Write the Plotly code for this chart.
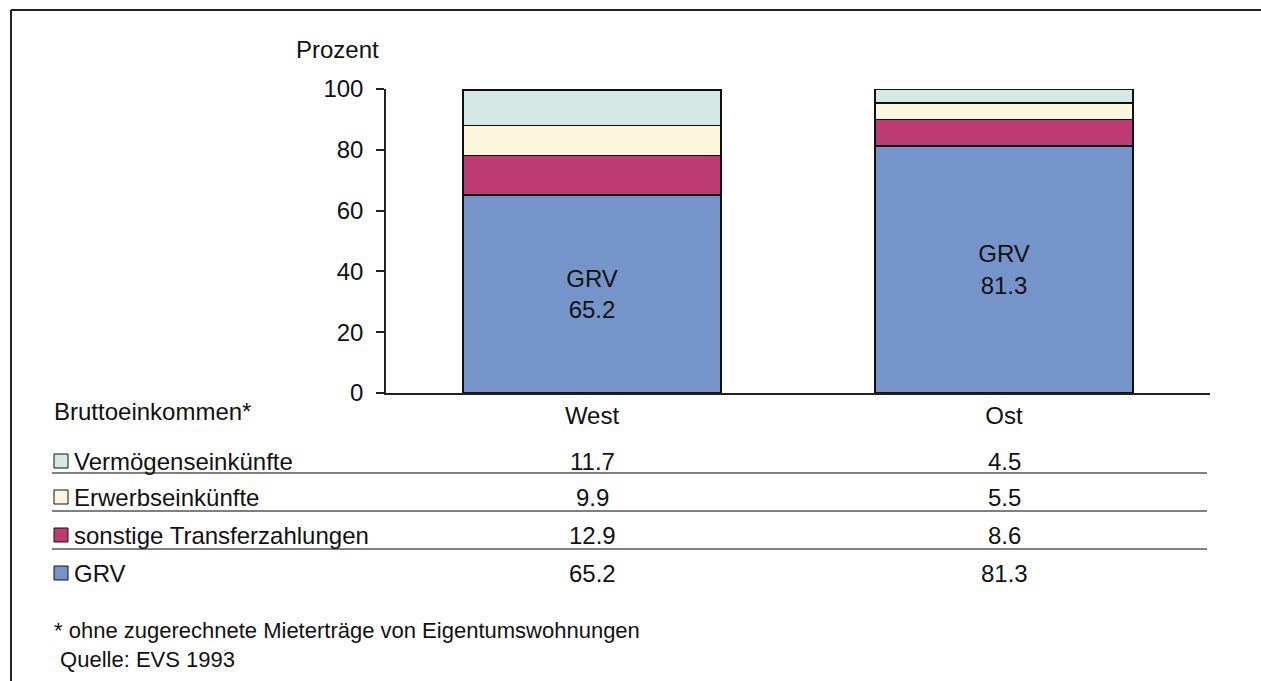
import plotly.graph_objects as go

# data
categories = ["West", "Ost"]
series_names = ["GRV", "sonstige Transferzahlungen", "Erwerbseinkünfte", "Vermögenseinkünfte"]
grv = [65.2, 81.3]
sonstige = [12.9, 8.6]
erwerb = [9.9, 5.5]
vermoegen = [11.7, 4.5]
y_ticks = [0, 20, 40, 60, 80, 100]

COLORS = {
    "GRV": "#7595CA",
    "sonstige Transferzahlungen": "#BE3B72",
    "Erwerbseinkünfte": "#FCF7DC",
    "Vermögenseinkünfte": "#D4E8E6",
}
FONT = "Liberation Sans, Arial, sans-serif"
TXT = "#111"

# full-window figure; the page margin is removed in the html below
W, H = 1261, 681
L, R, T, B = 386, 51, 89, 288
PW, PH = W - L - R, H - T - B


def px(x):
    return (x - L) / PW


def py(y):
    return (H - B - y) / PH


values = {
    "GRV": grv,
    "sonstige Transferzahlungen": sonstige,
    "Erwerbseinkünfte": erwerb,
    "Vermögenseinkünfte": vermoegen,
}

fig = go.Figure()
for name in series_names:
    vals = values[name]
    fig.add_trace(go.Bar(
        x=categories,
        y=vals,
        name=name,
        width=0.626,
        marker=dict(color=COLORS[name], line=dict(color=TXT, width=1.5)),
        text=[f"GRV<br>{v}" for v in vals] if name == "GRV" else None,
        textposition="inside" if name == "GRV" else "none",
        insidetextanchor="middle",
        textangle=0,
        textfont=dict(family=FONT, size=24, color=TXT),
        hoverinfo="skip",
    ))


def note(text, x, y, size=24, xref="paper", xanchor="left"):
    return dict(text=text, x=x, y=y, xref=xref, yref="paper",
                xanchor=xanchor, yanchor="middle", showarrow=False,
                font=dict(family=FONT, size=size, color=TXT))


annotations = [
    note("Prozent", px(381), py(50), xanchor="right"),
    note("Bruttoeinkommen*", px(52), py(411)),
    note("* ohne zugerechnete Mieterträge von Eigentumswohnungen", px(52), py(630), size=22),
    note(" Quelle: EVS 1993", px(52), py(659), size=22),
]

shapes = [
    # outer frame: only the top and left edges are inside the picture
    dict(type="line", xref="paper", yref="paper", x0=px(11), x1=px(1262), y0=py(10), y1=py(10),
         line=dict(color="#222", width=2), layer="below"),
    dict(type="line", xref="paper", yref="paper", x0=px(11), x1=px(11), y0=py(10), y1=py(690),
         line=dict(color="#222", width=2), layer="below"),
]

row_y = [461, 497, 535, 573]
sep_y = [473, 511, 549]
table_order = ["Vermögenseinkünfte", "Erwerbseinkünfte", "sonstige Transferzahlungen", "GRV"]
for i, name in enumerate(table_order):
    yc = row_y[i]
    annotations.append(note(name, px(72), py(yc)))
    for cat, v in zip(categories, values[name]):
        annotations.append(note(f"{v}", cat, py(yc), xref="x", xanchor="center"))
    shapes.append(dict(type="rect", xref="paper", yref="paper",
                       x0=px(54), x1=px(68), y0=py(yc - 7), y1=py(yc + 7),
                       fillcolor=COLORS[name], line=dict(color=TXT, width=1)))
for yl in sep_y:
    shapes.append(dict(type="line", xref="paper", yref="paper",
                       x0=px(52), x1=px(1207), y0=py(yl), y1=py(yl),
                       line=dict(color="#555", width=1.5)))

fig.update_layout(
    barmode="stack",
    width=W,
    height=H,
    margin=dict(l=L, r=R, t=T, b=B),
    plot_bgcolor="white",
    paper_bgcolor="white",
    showlegend=False,
    hovermode=False,
    font=dict(family=FONT, size=24, color=TXT),
    annotations=annotations,
    shapes=shapes,
    xaxis=dict(
        range=[-0.5, 1.5],
        showline=True, linecolor="#222", linewidth=1.5,
        ticks="", showgrid=False, zeroline=False,
        tickfont=dict(family=FONT, size=24, color=TXT),
    ),
    yaxis=dict(
        range=[0, 100],
        tickvals=y_ticks,
        showline=True, linecolor="#222", linewidth=1.5,
        ticks="outside", ticklen=8, tickcolor="#222", tickwidth=1.5,
        showgrid=False, zeroline=False,
        ticklabelstandoff=8,
        tickfont=dict(family=FONT, size=24, color=TXT),
    ),
)

fig.write_html(
    "out.html",
    config={"displayModeBar": False},
    post_script="document.body.style.margin='0';document.documentElement.style.overflow='hidden';",
)
